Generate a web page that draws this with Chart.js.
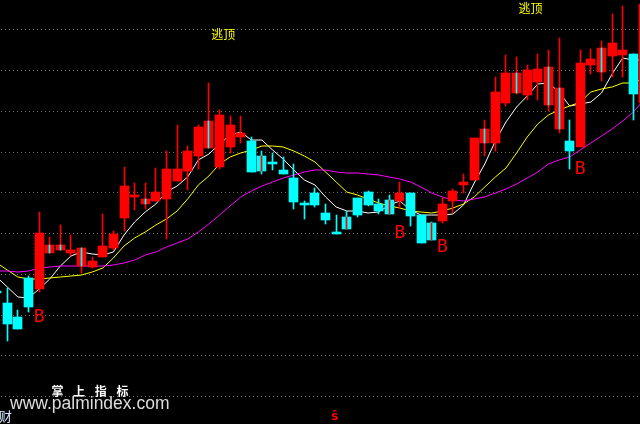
<!DOCTYPE html>
<html><head><meta charset="utf-8">
<script src="https://cdn.jsdelivr.net/npm/chart.js@4/dist/chart.umd.min.js"></script>
<style>html,body{margin:0;padding:0;background:#000;overflow:hidden}canvas{display:block}</style>
</head><body>
<canvas id="c" width="640" height="424"></canvas>
<script>
// ---- data (day index starts at -1, partially visible at left edge) ----
const firstDay = -1;
const openP  = [13.3,12.1,10.7,14.6,13.5,17.1,17.4,17.1,15.8,15.7,16.7,17.6,20.6,22.7,22.0,22.3,22.5,24.3,25.3,26.8,27.6,25.7,27.7,28.7,28.3,26.8,26.2,25.4,24.6,22.1,23.1,21.1,19.2,20.7,22.6,23.2,22.0,22.4,22.3,23.1,20.9,20.1,20.3,22.3,23.9,24.4,28.1,28.1,32.1,33.1,32.9,34.2,31.9,29.5,28.3,27.7,35.9,35.2,36.8,36.9,37.0,32.1];
const highP  = [13.3,13.6,11.4,14.8,21.2,18.7,19.9,18.9,17.6,16.7,21.0,19.3,25.7,24.1,24.1,25.6,27.3,29.9,27.8,29.9,34.1,31.4,30.8,30.8,28.7,27.3,27.1,26.7,26.0,22.3,23.6,22.0,20.9,21.3,22.6,23.3,22.5,22.9,24.2,23.1,20.9,20.2,22.6,23.5,25.0,28.6,30.4,34.7,36.9,36.7,35.9,37.0,37.4,38.6,30.4,37.4,37.5,38.3,41.0,41.8,37.0,42.4];
const lowP   = [13.1, 8.3, 9.5,11.2,13.2,17.1,17.4,16.8,15.1,15.6,16.7,17.4,19.3,21.4,21.5,22.3,18.5,24.3,23.4,25.5,27.6,25.5,27.1,28.1,25.2,25.0,25.4,25.0,21.5,20.5,21.7,20.0,19.0,19.5,20.7,21.8,21.0,21.0,21.6,19.8,18.1,18.4,20.1,21.1,23.1,24.4,26.8,27.3,31.8,33.0,32.4,32.4,31.3,29.1,25.5,27.7,35.0,34.3,34.7,34.7,30.4,32.1];
const closeP = [13.1,10.0, 9.5,11.7,19.1,17.9,17.9,17.4,17.6,16.3,17.8,19.0,23.8,22.9,22.5,23.2,25.5,25.5,27.3,29.7,30.3,30.9,29.9,29.1,25.2,25.3,26.0,25.0,22.2,21.9,21.9,20.4,19.0,19.5,20.9,21.9,21.3,21.0,23.1,20.8,18.1,18.4,22.0,23.3,24.2,28.6,29.5,33.2,35.1,35.1,35.4,35.5,35.7,33.6,27.3,36.1,36.5,37.6,38.1,37.4,33.0,42.0];
const maShort = [14.7,13.7,12.7,12.6,13.5,14.5,15.8,16.8,17.2,17.0,16.9,17.2,18.9,20.2,21.2,22.0,23.2,23.8,24.7,26.4,27.0,28.0,28.9,29.2,28.4,28.4,27.4,26.5,25.4,24.4,23.9,22.7,21.7,21.3,21.3,21.1,21.2,21.9,22.3,21.4,20.9,20.9,20.9,21.0,21.9,24.1,26.0,28.3,30.2,31.7,32.8,34.0,34.1,33.2,31.8,32.0,32.2,33.1,35.0,36.6,36.4,36.4];
const maMid   = [16.1,15.4,14.7,14.5,14.5,14.6,14.7,14.8,14.9,15.2,15.6,16.6,17.8,18.6,19.2,19.9,20.5,21.3,22.5,23.9,24.8,26.0,26.7,27.1,27.4,27.8,27.8,27.7,27.3,26.8,26.2,25.2,24.2,23.2,22.9,22.5,22.1,21.8,21.6,21.3,21.2,21.1,21.3,21.6,22.0,22.7,23.7,24.7,25.6,27.1,28.7,30.0,30.9,31.4,31.8,32.2,33.2,33.5,33.7,34.1,34.1,34.6];
const maLong  = [15.3,15.3,15.2,15.3,15.6,15.7,15.8,15.8,15.8,15.8,15.8,15.9,16.1,16.4,16.9,17.2,17.7,18.1,18.5,19.2,20.0,20.9,21.8,22.7,23.3,23.8,24.2,24.6,24.9,25.2,25.4,25.4,25.2,25.1,25.1,25.0,24.9,24.7,24.5,24.2,23.7,23.1,22.7,22.4,22.3,22.5,22.7,23.1,23.5,24.0,24.6,25.2,26.0,26.4,26.7,27.4,28.1,28.8,29.5,30.3,31.2,32.4];
const gridValues = [2.8,6.87,10.95,15.02,19.1,23.17,27.24,31.32,35.39,39.47];
const redWithCyanCore = [4,5,7,13,19,45,48,51,52,56];
const cyanWithRedCore = [24,32,36,40];
const buyMarks = [{day:3,price:10.7},{day:37,price:19.1},{day:41,price:17.65},{day:54,price:25.45}];
const topMarks = [{day:20.36,price:38.93,text:'逃顶'},{day:49.31,price:41.52,text:'逃顶'}];

const RED = '#ff0000', CYAN = '#00ffff';
const days = openP.map((_, k) => k + firstDay);
const isUp = days.map((d, k) => closeP[k] >= openP[k]);

const bodies = days.map((d, k) => ({x: d, y: [openP[k], closeP[k]]}));
const wicks = days.map((d, k) => ({x: d, y: [lowP[k], highP[k]]}));
const coreIdx = redWithCyanCore.concat(cyanWithRedCore);
const cores = coreIdx.map(d => { const k = d - firstDay; return {x: d, y: [Math.min(openP[k], closeP[k]), Math.max(openP[k], closeP[k])]}; });
const coreColors = coreIdx.map(d => redWithCyanCore.includes(d) ? CYAN : RED);
const colorsUpDown = isUp.map(u => u ? RED : CYAN);
const line = (arr) => days.map((d, k) => ({x: d, y: arr[k]}));

const bgPlugin = {
  id: 'bg',
  beforeDraw(chart) {
    const c = chart.ctx; c.save(); c.fillStyle = '#000'; c.fillRect(0, 0, chart.width, chart.height); c.restore();
  },
  beforeDatasetsDraw(chart) {
    const c = chart.ctx, ys = chart.scales.y;
    c.save(); c.fillStyle = '#6e6e6e';
    gridValues.forEach(v => {
      const py = Math.round(ys.getPixelForValue(v));
      for (let x = 1; x < chart.width; x += 4) c.fillRect(x, py, 1, 1);
    });
    c.restore();
  }
};

const snapPlugin = {
  id: 'snap',
  afterDatasetsUpdate(chart) {
    chart.data.datasets.forEach((ds, di) => {
      const meta = chart.getDatasetMeta(di);
      if (meta.type !== 'bar') return;
      meta.data.forEach(el => {
        el.x = Math.floor(el.x) + 0.5;
        el.y = Math.round(el.y);
        el.base = Math.round(el.base);
        if (el.y === el.base) el.y = el.base - 1;
      });
    });
  }
};

const textPlugin = {
  id: 'texts',
  afterDatasetsDraw(chart) {
    const c = chart.ctx, xs = chart.scales.x, ys = chart.scales.y;
    c.save();
    c.textAlign = 'center'; c.textBaseline = 'middle';
    c.fillStyle = RED; c.font = '18px "DejaVu Sans Mono"';
    buyMarks.forEach(m => c.fillText('B', xs.getPixelForValue(m.day), ys.getPixelForValue(m.price)));
    c.fillStyle = '#ffff00'; c.font = '12px "Noto Sans CJK SC"';
    topMarks.forEach(m => c.fillText(m.text, xs.getPixelForValue(m.day), ys.getPixelForValue(m.price)));
    // watermark
    c.fillStyle = '#ffffff'; c.font = 'bold 12px "Noto Sans CJK SC"';
    ['掌','上','指','标'].forEach((ch, k) => c.fillText(ch, 57.4 + 21.7 * k, 391.5));
    c.fillStyle = '#dddddd'; c.font = '17.5px "Liberation Sans"'; c.textAlign = 'left'; c.textBaseline = 'alphabetic';
    c.fillText('www.palmindex.com', 10, 409);
    c.fillStyle = '#d8e6ff'; c.font = '13px "Noto Sans CJK SC"'; c.textBaseline = 'middle';
    c.fillText('财', -1, 416);
    c.fillStyle = RED; c.font = 'bold 12px "DejaVu Sans"'; c.textAlign = 'center';
    c.fillText('ŝ', 334.7, 417);
    c.restore();
  }
};

new Chart(document.getElementById('c'), {
  type: 'bar',
  data: {
    datasets: [
      {type: 'line', data: line(maShort), borderColor: '#ffffff', borderWidth: 1, pointRadius: 0, tension: 0, order: 6},
      {type: 'line', data: line(maMid), borderColor: '#ffff00', borderWidth: 1, pointRadius: 0, tension: 0, order: 5},
      {type: 'line', data: line(maLong), borderColor: '#ff00ff', borderWidth: 1, pointRadius: 0, tension: 0, order: 4},
      {data: wicks, backgroundColor: colorsUpDown, barThickness: 1, grouped: false, borderWidth: 0, order: 3},
      {data: bodies, backgroundColor: colorsUpDown, barThickness: 9, grouped: false, borderWidth: 0, minBarLength: 1, order: 2},
      {data: cores, backgroundColor: coreColors, barThickness: 1, grouped: false, borderWidth: 0, order: 1}
    ]
  },
  options: {
    responsive: false,
    animation: false,
    devicePixelRatio: 1,
    layout: {padding: 0},
    plugins: {legend: {display: false}, tooltip: {enabled: false}},
    scales: {
      x: {type: 'linear', min: -0.688, max: 59.632, offset: false, display: false},
      y: {type: 'linear', min: 0, max: 42.4, display: false}
    }
  },
  plugins: [bgPlugin, snapPlugin, textPlugin]
});
</script>
</body></html>
